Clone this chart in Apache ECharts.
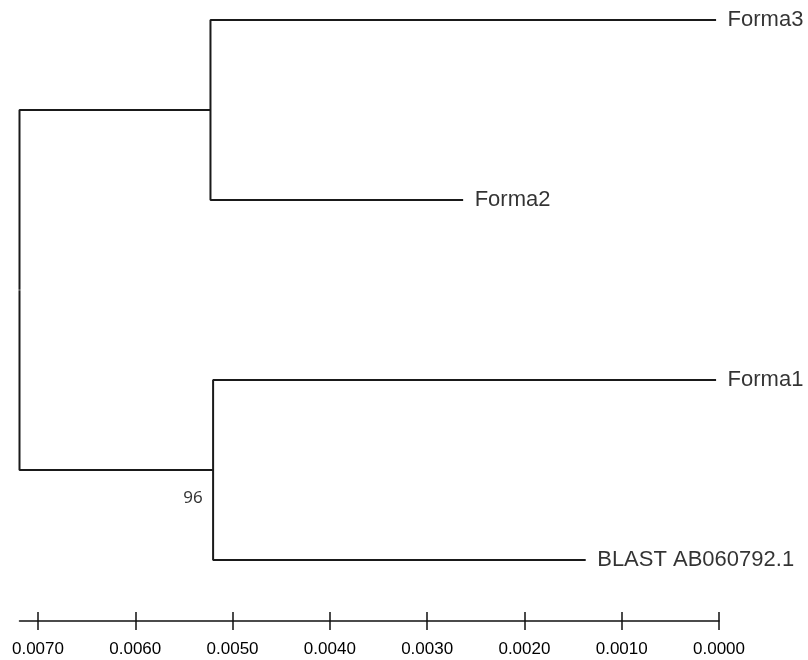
<!DOCTYPE html>
<html>
<head>
<meta charset="utf-8">
<script src="https://cdn.jsdelivr.net/npm/echarts@6/dist/echarts.min.js"></script>
<style>html,body{margin:0;padding:0;background:#fff}#c{width:808px;height:660px}</style>
</head>
<body>
<div id="c"></div>
<script>
// Leaves (top to bottom) and their distance from the present (axis value)
const leaves = ['Forma3', 'Forma2', 'Forma1', 'BLAST AB060792.1'];
const leafDist = [0.00003, 0.00263, 0.00003, 0.00137];
// Internal nodes: [child leaf index a, child leaf index b, distance]
const nodeA = [0, 1, 0.005227];   // (Forma3, Forma2)
const nodeB = [2, 3, 0.00520];    // (Forma1, BLAST)
const rootDist = 0.00719;
const bootstrapB = '96';
const tickValues = [0, 0.001, 0.002, 0.003, 0.004, 0.005, 0.006, 0.007];

const LINE = { color: '#1a1a1a', width: 2 };

function bracket(n) {
  const [a, b, d] = n;
  return [[leafDist[a], a], [d, a], [d, b], [leafDist[b], b]];
}
const yA = (nodeA[0] + nodeA[1]) / 2;
const yB = (nodeB[0] + nodeB[1]) / 2;
const yMid = (yA + yB) / 2;
const rootPaths = [
  [[nodeA[2], yA], [rootDist, yA], [rootDist, yMid - 0.002]],
  [[rootDist, yMid + 0.002], [rootDist, yB], [nodeB[2], yB]]
];

const paths = [bracket(nodeA), bracket(nodeB)].concat(rootPaths);

const series = paths.map(p => ({
  type: 'line', data: p, showSymbol: false, symbol: 'none',
  lineStyle: LINE, silent: true, animation: false, xAxisIndex: 0
}));

series.push({
  type: 'scatter', xAxisIndex: 0, symbolSize: 1, silent: true, animation: false,
  itemStyle: { color: 'rgba(0,0,0,0)' },
  data: leaves.map((n, i) => ({ value: [leafDist[i], i], name: n })),
  label: {
    show: true, position: 'right', distance: 11,
    formatter: p => p.name,
    color: '#000', fontFamily: 'Liberation Sans, Arial, sans-serif', fontSize: 22
  }
});

series.push({
  type: 'scatter', xAxisIndex: 0, symbolSize: 1, silent: true, animation: false,
  itemStyle: { color: 'rgba(0,0,0,0)' },
  data: [{ value: [nodeB[2], yB], name: bootstrapB }],
  label: {
    show: true, position: 'left', distance: 10, offset: [0, 28],
    formatter: p => p.name,
    color: '#000', fontFamily: 'Noto Sans, sans-serif', fontSize: 17
  }
});

const axisCommon = {
  type: 'value', min: 0, max: rootDist, inverse: true,
  position: 'bottom', offset: 61, splitLine: { show: false }
};

const option = {
  backgroundColor: '#fff',
  grid: { left: 19.5, right: 89, top: 20, bottom: 100, containLabel: false },
  xAxis: [
    Object.assign({}, axisCommon, {
      axisLine: { show: true, onZero: false, lineStyle: { color: '#111', width: 1.5 } },
      axisTick: { show: true, inside: false, length: 9, customValues: tickValues,
                  lineStyle: { color: '#111', width: 1.5 } },
      axisLabel: { show: true, margin: 20, customValues: tickValues,
                   formatter: v => v.toFixed(4),
                   color: '#000', fontSize: 17,
                   fontFamily: 'Liberation Sans, Arial, sans-serif' }
    }),
    Object.assign({}, axisCommon, {
      axisLine: { show: false, onZero: false },
      axisTick: { show: true, inside: true, length: 9, customValues: tickValues,
                  lineStyle: { color: '#111', width: 1.5 } },
      axisLabel: { show: false }
    })
  ],
  yAxis: { type: 'value', min: 0, max: 3, inverse: true, show: false },
  series: series
};

const chart = echarts.init(document.getElementById('c'), null, { renderer: 'canvas' });
chart.setOption(option);
</script>
</body>
</html>
